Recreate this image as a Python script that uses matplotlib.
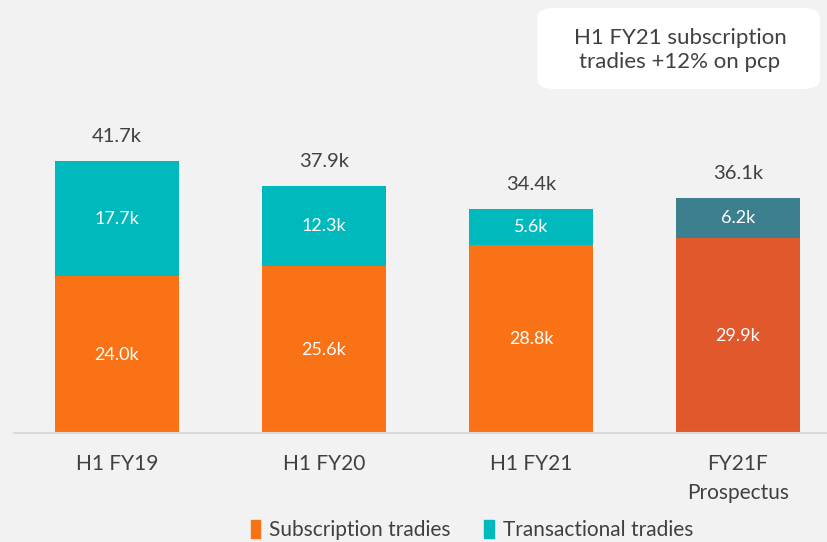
import matplotlib.pyplot as plt
from matplotlib.patches import FancyBboxPatch, Patch

periods = ['H1 FY19', 'H1 FY20', 'H1 FY21', 'FY21F\nProspectus']
subscription = [24.0, 25.6, 28.8, 29.9]
transactional = [17.7, 12.3, 5.6, 6.2]
totals = [41.7, 37.9, 34.4, 36.1]

sub_colors = ['#F97316', '#F97316', '#F97316', '#E0582B']
trans_colors = ['#00B9BC', '#00B9BC', '#00B9BC', '#3C7F8E']

plt.rcParams['font.family'] = ['Lato', 'DejaVu Sans']
bg = '#F2F2F2'
txt = '#404040'

fig = plt.figure(figsize=(8.27, 5.42), dpi=100, facecolor=bg)
ax = fig.add_axes([14 / 827, 1 - 433 / 542, 1 - 14 / 827, 433 / 542])
ax.set_facecolor(bg)

x = range(len(periods))
ax.bar(x, subscription, width=0.6, color=sub_colors)
ax.bar(x, transactional, width=0.6, bottom=subscription, color=trans_colors)

for i in x:
    ax.text(i, subscription[i] / 2, f'{subscription[i]:.1f}k', ha='center', va='center',
            color='white', fontsize=13)
    ax.text(i, subscription[i] + transactional[i] / 2, f'{transactional[i]:.1f}k',
            ha='center', va='center', color='white', fontsize=13)
    ax.text(i, totals[i] + 3.7, f'{totals[i]:.1f}k', ha='center', va='center',
            color=txt, fontsize=14.5)

ax.set_xlim(-0.4976, 3.43)
ax.set_ylim(0, 66.4)
ax.set_xticks(list(x))
ax.set_xticklabels(periods, fontsize=15, color=txt, linespacing=1.55)
ax.tick_params(axis='x', length=0, pad=15)
ax.set_yticks([])
for s in ['top', 'right', 'left']:
    ax.spines[s].set_visible(False)
ax.spines['bottom'].set_color('#D9D9D9')
ax.spines['bottom'].set_linewidth(1.5)

# callout box
box = FancyBboxPatch((537 / 827, 1 - 89 / 542), 283 / 827, 81 / 542,
                     boxstyle='round,pad=0,rounding_size=0.02', transform=fig.transFigure,
                     facecolor='white', edgecolor='none')
fig.patches.append(box)
fig.text(680 / 827, 1 - 50 / 542, 'H1 FY21 subscription\ntradies +12% on pcp', ha='center',
         va='center', fontsize=16, color=txt, linespacing=1.3)

handles = [Patch(color='#F97316'), Patch(color='#00B9BC')]
fig.legend(handles, ['Subscription tradies', 'Transactional tradies'], loc='lower center',
           bbox_to_anchor=(472 / 827, -0.016), ncol=2, frameon=False, fontsize=15,
           handlelength=0.45, handleheight=0.9, handletextpad=0.45, columnspacing=1.6,
           labelcolor=txt, borderpad=0)

fig.savefig('out.png', dpi=100, facecolor=bg)
